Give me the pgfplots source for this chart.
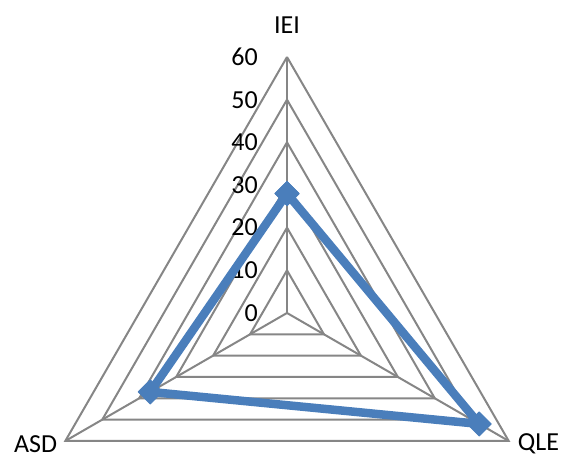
\documentclass[border=0pt]{standalone}
\usepackage{fontspec}
\setmainfont{Carlito}
\usepackage{pgfplots}
\pgfplotsset{compat=1.18}
\usepackage{pgfplotstable}

\definecolor{series}{HTML}{4A7EBB}
\definecolor{gridgray}{HTML}{868686}

% angle (deg) and value, closed back to IEI
\pgfplotstableread{
a r
90 28
330 52
210 37
90 28
}\scores

% unit triangle, scaled per grid level
\pgfplotstableread{
a k
90 1
330 1
210 1
90 1
}\corners

\begin{document}
\begin{tikzpicture}[font=\fontsize{26}{30}\selectfont]
\begin{axis}[
  x=4.2667pt, y=4.2667pt, scale only axis,
  xmin=-67.27, xmax=64.22, ymin=-33.75, ymax=73.36,
  hide axis, clip=false,
]
\path (rel axis cs:0,0) rectangle (rel axis cs:1,1);
% triangular grid
\pgfplotsinvokeforeach{10,20,30,40,50,60}{
  \addplot[gridgray, line width=2pt, no marks, line join=miter]
    table[x expr={#1*\thisrow{k}*cos(\thisrow{a})}, y expr={#1*\thisrow{k}*sin(\thisrow{a})}] {\corners};
}
% spokes
\pgfplotsinvokeforeach{90,210,330}{
  \addplot[gridgray, line width=2pt, no marks]
    table[row sep=\\, x expr={\thisrow{r}*cos(#1)}, y expr={\thisrow{r}*sin(#1)}] {r k\\0 0\\60 0\\};
}
% value labels
\pgfplotsinvokeforeach{0,10,20,30,40,50,60}{
  \node[anchor=east, inner sep=0pt, xshift=-29pt] at (axis cs:0,#1) {#1};
}
\node[inner sep=0pt, yshift=31.5pt] at (axis cs:0,60) {IEI};
\node[anchor=west, inner sep=0pt, xshift=9pt, yshift=-3pt] at (axis cs:51.96,-30) {QLE};
\node[anchor=east, inner sep=0pt, xshift=-8pt, yshift=-3pt] at (axis cs:-51.96,-30) {ASD};
% data
\addplot[series, line width=8.5pt, line join=round, mark=square*,
  mark size=8.5pt, mark options={rotate=45, solid, line width=1pt}]
  table[x expr={\thisrow{r}*cos(\thisrow{a})}, y expr={\thisrow{r}*sin(\thisrow{a})}] {\scores};
\end{axis}
\end{tikzpicture}
\end{document}
